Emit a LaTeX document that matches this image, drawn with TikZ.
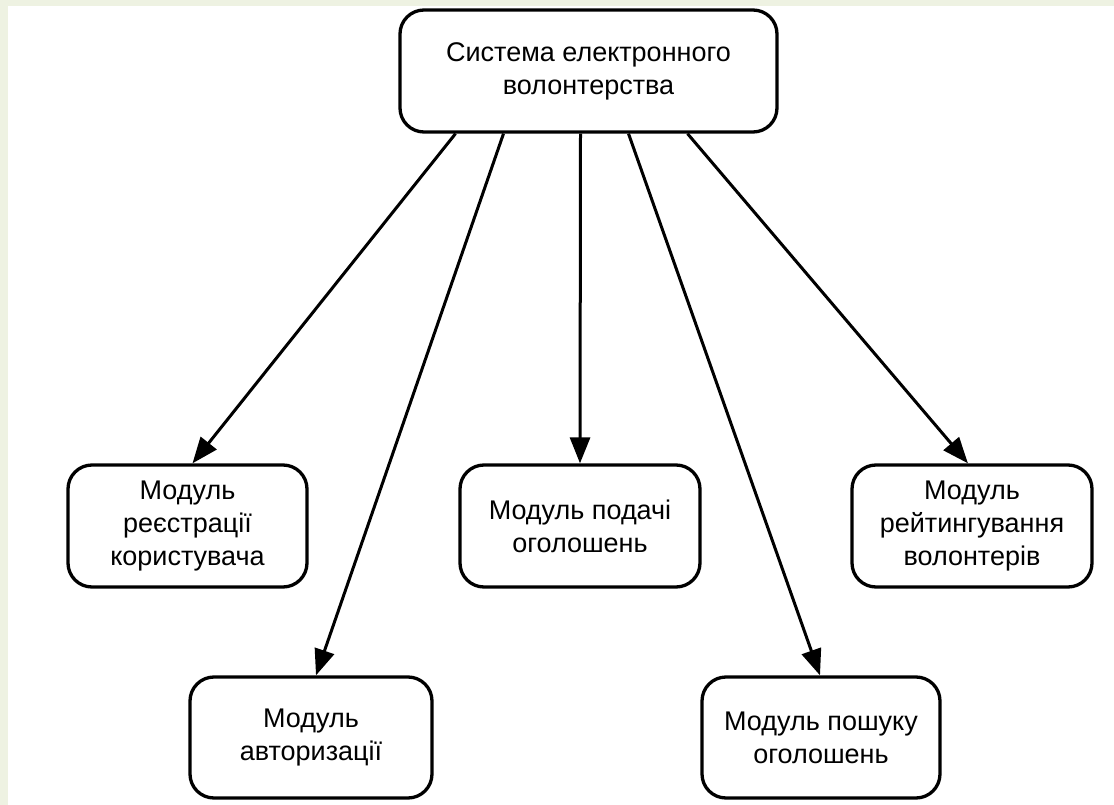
\documentclass[tikz,border=0pt]{standalone}
\usepackage{fontspec}
\setmainfont{Liberation Sans}
\usetikzlibrary{arrows.meta}
\definecolor{bgstrip}{HTML}{EEF2E2}
\begin{document}
\begin{tikzpicture}[x=1pt,y=-1pt,
  box/.style={draw=black,line width=3.3pt,rounded corners=24pt,fill=white,
    align=center,font=\fontsize{27}{33}\selectfont,inner sep=0pt},
  arr/.style={line width=3pt,-{Triangle[length=26pt,width=20pt]}}]
\useasboundingbox (0,0) rectangle (1114,805);
\fill[bgstrip] (0,0) rectangle (1114,805);
\fill[white] (8,6) rectangle (1114,805);
\node[box,minimum width=377pt,minimum height=122pt] (top) at (588.5,71) {Система електронного\\волонтерства};
\node[box,minimum width=239pt,minimum height=122pt] (reg) at (187.5,526) {Модуль\\реєстрації\\користувача};
\node[box,minimum width=242pt,minimum height=121pt] (auth) at (311,737.5) {Модуль\\авторизації};
\node[box,minimum width=240pt,minimum height=122pt] (pod) at (580,526) {Модуль подачі\\оголошень};
\node[box,minimum width=238pt,minimum height=121pt] (posh) at (821,737.5) {Модуль пошуку\\оголошень};
\node[box,minimum width=240pt,minimum height=122pt] (reit) at (972,526) {Модуль\\рейтингування\\волонтерів};
\draw[arr] ([xshift=-133pt]top.south) -- ([xshift=5pt]reg.north);
\draw[arr] ([xshift=-85pt]top.south) -- ([xshift=5pt]auth.north);
\draw[arr] ([xshift=-8pt]top.south) -- (pod.north);
\draw[arr] ([xshift=40pt]top.south) -- ([xshift=-1pt]posh.north);
\draw[arr] ([xshift=99pt]top.south) -- ([xshift=-4pt]reit.north);
\end{tikzpicture}
\end{document}
